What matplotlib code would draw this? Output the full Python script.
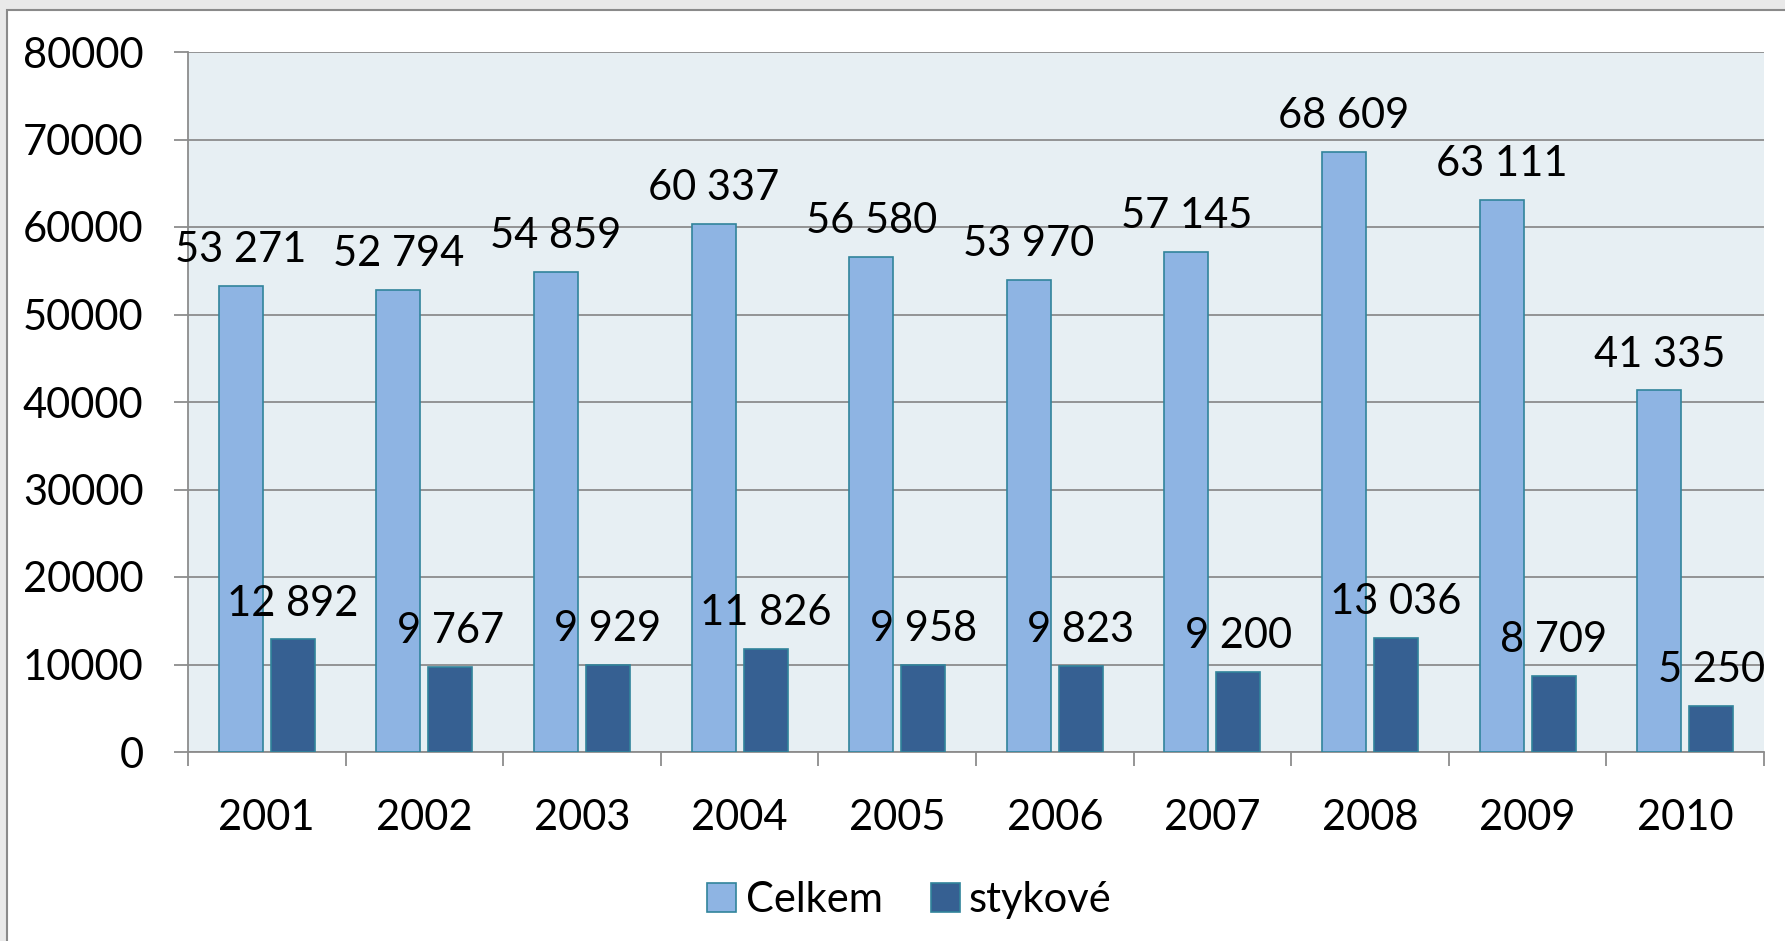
import numpy as np
import matplotlib
matplotlib.use('Agg')
import matplotlib.pyplot as plt
from matplotlib.patches import Rectangle

plt.rcParams['font.family'] = ['Lato', 'DejaVu Sans']

years = ['2001', '2002', '2003', '2004', '2005', '2006', '2007', '2008', '2009', '2010']
celkem = [53271, 52794, 54859, 60337, 56580, 53970, 57145, 68609, 63111, 41335]
stykove = [12892, 9767, 9929, 11826, 9958, 9823, 9200, 13036, 8709, 5250]

c_light = '#8EB4E3'
c_dark = '#366092'
c_edge = '#31849B'
grid_c = '#8C8C8C'
fs = 30

fig = plt.figure(figsize=(17.85, 9.41), dpi=100)
fig.patch.set_facecolor('#E9E9E9')
# white chart area with grey border
bg = fig.add_axes([0, 0, 1, 1], zorder=0)
bg.axis('off')
bg.add_patch(Rectangle((7 / 1785, -0.01), 1.02, 1 - 10 / 941 + 0.01,
                       transform=bg.transAxes, facecolor='white',
                       edgecolor='#8A8A8A', lw=1.5, clip_on=False))

ax = fig.add_axes([188 / 1785, 1 - 752 / 941, (1764 - 188) / 1785, (752 - 52) / 941], zorder=2)
ax.set_facecolor('#E7EFF3')

x = np.arange(len(years))
w = 0.28
off = 0.165
b1 = ax.bar(x - off, celkem, w, color=c_light, edgecolor=c_edge, lw=1.2, zorder=3, label='Celkem')
b2 = ax.bar(x + off, stykove, w, color=c_dark, edgecolor=c_edge, lw=1.2, zorder=3, label='stykové')

def fmt(v):
    return '{:,}'.format(v).replace(',', ' ')

for bars, vals in ((b1, celkem), (b2, stykove)):
    for b, v in zip(bars, vals):
        ax.annotate(fmt(v), (b.get_x() + b.get_width() / 2, v), xytext=(0, 12),
                    textcoords='offset points', ha='center', va='bottom',
                    fontsize=fs, zorder=5)

ax.set_ylim(0, 80000)
ax.set_xlim(-0.5, len(years) - 0.5)
ax.set_yticks(np.arange(0, 80001, 10000))
ax.set_yticklabels([str(v) for v in range(0, 80001, 10000)])
ax.yaxis.grid(True, color=grid_c, lw=1.3, zorder=1)
ax.set_axisbelow(True)

ax.set_xticks(x)
ax.set_xticklabels(years)
ax.set_xticks(np.arange(-0.5, len(years)), minor=True)
ax.tick_params(axis='x', which='major', length=0, pad=34, labelsize=fs)
ax.tick_params(axis='x', which='minor', length=10, width=1.3, color=grid_c, direction='out')
ax.tick_params(axis='y', length=10, width=1.3, color=grid_c, pad=22, labelsize=fs)

for s in ('top', 'right'):
    ax.spines[s].set_visible(False)
for s in ('left', 'bottom'):
    ax.spines[s].set_color(grid_c)
    ax.spines[s].set_linewidth(1.3)

leg = fig.legend(handles=[b1, b2], loc='center', bbox_to_anchor=(0.5095, 1 - 900 / 941),
                 ncol=2, frameon=False, fontsize=fs, handlelength=0.7, handleheight=0.7,
                 handletextpad=0.22, columnspacing=1.15)

fig.savefig('out.png', dpi=100, facecolor=fig.get_facecolor())
